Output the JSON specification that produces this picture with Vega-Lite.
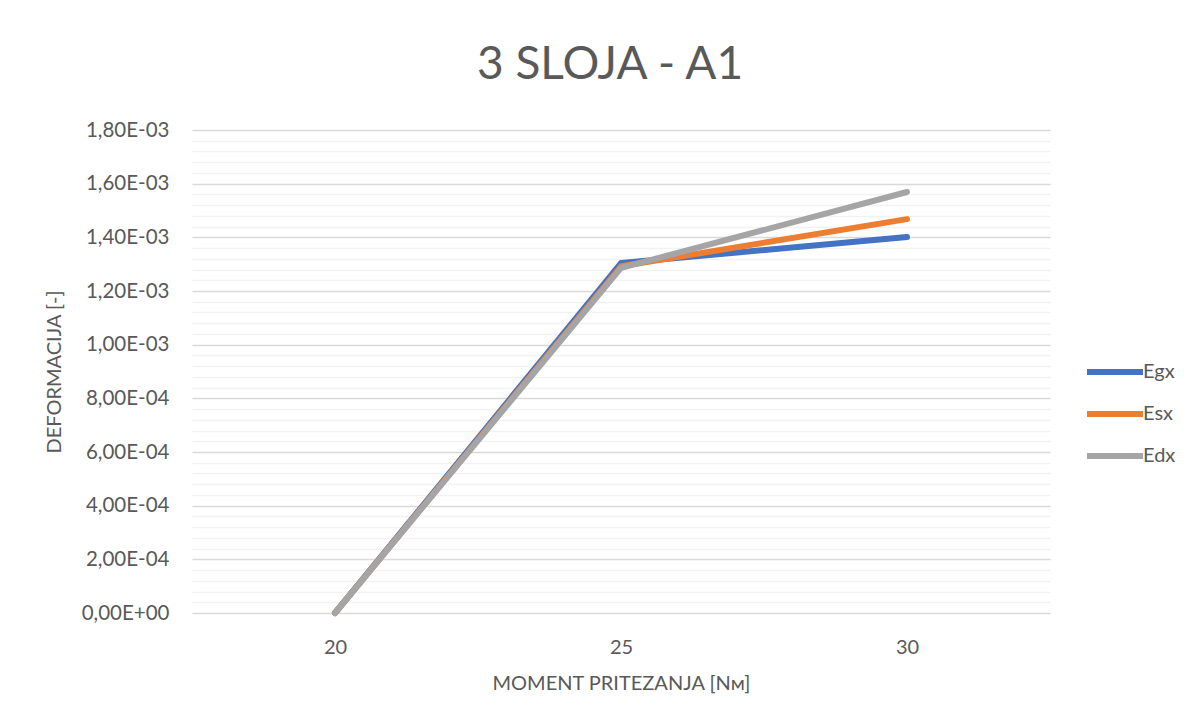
{
  "$schema": "https://vega.github.io/schema/vega-lite/v6.json",
  "width": 858,
  "height": 483,
  "autosize": {"type": "none"},
  "padding": {"left": 192, "top": 130, "right": 150, "bottom": 107},
  "background": "white",
  "title": {"text": "3 SLOJA - A1", "fontSize": 46, "font": "Lato", "fontWeight": "normal", "color": "#595959", "anchor": "middle", "dx": -11, "offset": 31},
  "config": {"view": {"stroke": null}, "font": "Lato"},
  "data": {"values": [
    {"M": "20", "serija": "Egx", "v": 0},
    {"M": "25", "serija": "Egx", "v": 0.001304},
    {"M": "30", "serija": "Egx", "v": 0.001401},
    {"M": "20", "serija": "Esx", "v": 0},
    {"M": "25", "serija": "Esx", "v": 0.001292},
    {"M": "30", "serija": "Esx", "v": 0.001468},
    {"M": "20", "serija": "Edx", "v": 0},
    {"M": "25", "serija": "Edx", "v": 0.001286},
    {"M": "30", "serija": "Edx", "v": 0.001569}
  ]},
  "resolve": {"axis": {"y": "independent"}},
  "layer": [
    {
      "mark": {"type": "line", "opacity": 0},
      "encoding": {
        "x": {"field": "M", "type": "ordinal", "scale": {"type": "point", "padding": 0.5}},
        "y": {"field": "v", "type": "quantitative", "scale": {"domain": [0, 0.0018], "nice": false},
          "axis": {"orient": "right", "values": [0.00004,0.00008,0.00012,0.00016,0.00024,0.00028,0.00032,0.00036,0.00044,0.00048,0.00052,0.00056,0.00064,0.00068,0.00072,0.00076,0.00084,0.00088,0.00092,0.00096,0.00104,0.00108,0.00112,0.00116,0.00124,0.00128,0.00132,0.00136,0.00144,0.00148,0.00152,0.00156,0.00164,0.00168,0.00172,0.00176],
            "grid": true, "gridColor": "#F2F2F2", "gridWidth": 1.5, "labels": false, "ticks": false, "domain": false, "title": null}},
        "detail": {"field": "serija"}
      }
    },
    {
      "mark": {"type": "line", "strokeWidth": 6, "strokeCap": "round", "strokeJoin": "round"},
      "encoding": {
        "x": {"field": "M", "type": "ordinal", "scale": {"type": "point", "padding": 0.5},
          "axis": {"labelAngle": 0, "labelAlign": "center", "labelOffset": 0, "grid": false, "ticks": false, "domain": false, "labelFontSize": 20, "labelColor": "#595959", "labelPadding": 34,
            "title": "MOMENT PRITEZANJA [Nᴍ]", "titleFontSize": 20, "titleFontWeight": "normal", "titleColor": "#595959", "titlePadding": 16}},
        "y": {"field": "v", "type": "quantitative", "scale": {"domain": [0, 0.0018], "nice": false},
          "axis": {"orient": "left", "values": [0, 0.0002, 0.0004, 0.0006, 0.0008, 0.001, 0.0012, 0.0014, 0.0016, 0.0018],
            "labelExpr": "datum.value == 0 ? '0,00E+00' : (datum.value >= 0.001 ? replace(format(datum.value*1000, '.2f'), '.', ',') + 'E-03' : replace(format(datum.value*10000, '.2f'), '.', ',') + 'E-04')",
            "grid": true, "gridColor": "#D9D9D9", "gridWidth": 1.5, "ticks": false, "domain": false, "labelFontSize": 20.5, "labelColor": "#595959", "labelPadding": 23,
            "title": "DEFORMACIJA [-]", "titleFontSize": 20, "titleFontWeight": "normal", "titleColor": "#595959", "titlePadding": 17}},
        "color": {"field": "serija", "type": "nominal", "sort": ["Egx", "Esx", "Edx"],
          "scale": {"domain": ["Egx", "Esx", "Edx"], "range": ["#4472C4", "#ED7D31", "#A5A5A5"]},
          "legend": {"title": null, "orient": "none", "legendX": 906, "legendY": 225, "symbolType": "M-2,0H2", "symbolSize": 784, "symbolStrokeWidth": 6, "labelFontSize": 20, "labelColor": "#595959", "labelOffset": 11, "rowPadding": 13}}
      }
    }
  ]
}
